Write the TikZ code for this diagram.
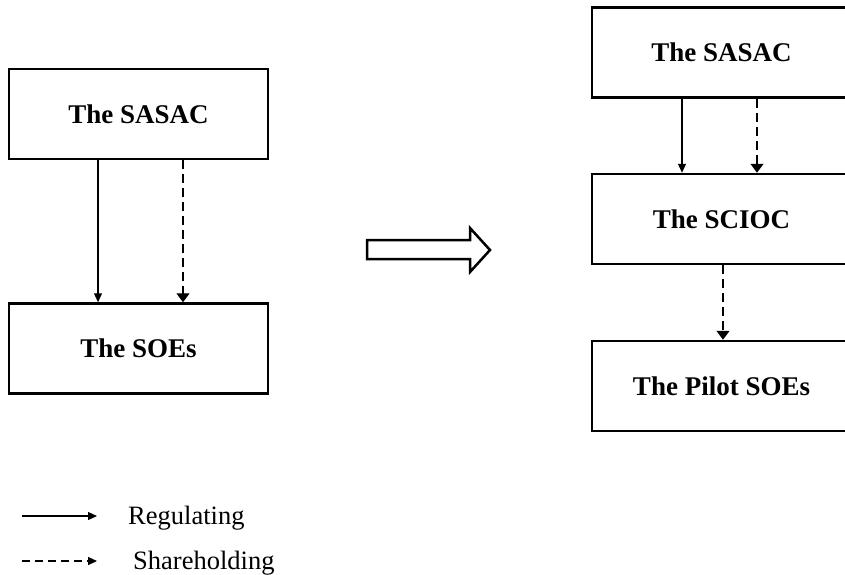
\documentclass[tikz,border=0pt]{standalone}
\usepackage{fontspec}
\setmainfont{Liberation Serif}
\usetikzlibrary{arrows.meta}
\begin{document}
\begin{tikzpicture}[x=1pt,y=-1pt,
  orgbox/.style={draw,line width=2.5pt,minimum width=259pt,minimum height=90pt,inner sep=0pt,
    font=\fontsize{27}{30}\selectfont\bfseries},
  reg/.style={line width=1.3pt,-{Triangle[length=9pt,width=8pt]}},
  share/.style={line width=1.3pt,dash pattern=on 9pt off 5pt,-{Triangle[length=9pt,width=13pt]}},
  legtext/.style={anchor=west,inner sep=0pt,font=\fontsize{26.5}{30}\selectfont}]
\useasboundingbox (0,0) rectangle (845,574);
\begin{scope}
\clip (0,0) rectangle (845,574);
\node[orgbox] (sasacL) at (138.5,114) {The SASAC};
\node[orgbox] (soesL) at (138.5,348.5) {The SOEs};
\node[orgbox] (sasacR) at (721.5,52.5) {The SASAC};
\node[orgbox] (scioc) at (721.5,219) {The SCIOC};
\node[orgbox] (pilot) at (721.5,386) {The Pilot SOEs};
\end{scope}
\coordinate (xa) at (98,0);
\coordinate (xb) at (183,0);
\coordinate (xc) at (682,0);
\coordinate (xd) at (757,0);
\coordinate (xe) at (723,0);
\draw[reg] (sasacL.south -| xa) -- (soesL.north -| xa);
\draw[share] (sasacL.south -| xb) -- (soesL.north -| xb);
\draw[reg] (sasacR.south -| xc) -- (scioc.north -| xc);
\draw[share] (sasacR.south -| xd) -- (scioc.north -| xd);
\draw[share] (scioc.south -| xe) -- (pilot.north -| xe);
% big transition arrow
\draw[line width=2.5pt,line join=miter] (367,240) -- (470,240) -- (470,228) -- (490,250) -- (470,272) -- (470,259) -- (367,259) -- cycle;
% legend
\coordinate (l1s) at (22,516);
\coordinate (l1e) at (97,516);
\coordinate (l2s) at (22,561);
\coordinate (l2e) at (97,561);
\draw[reg] (l1s) -- (l1e);
\draw[share,dash pattern=on 8pt off 5pt,-{Triangle[length=9pt,width=8pt]}] (l2s) -- (l2e);
\node[legtext] (regtxt) at (128,518) {Regulating};
\node[legtext] (shtxt) at (133,563) {Shareholding};
\end{tikzpicture}
\end{document}
